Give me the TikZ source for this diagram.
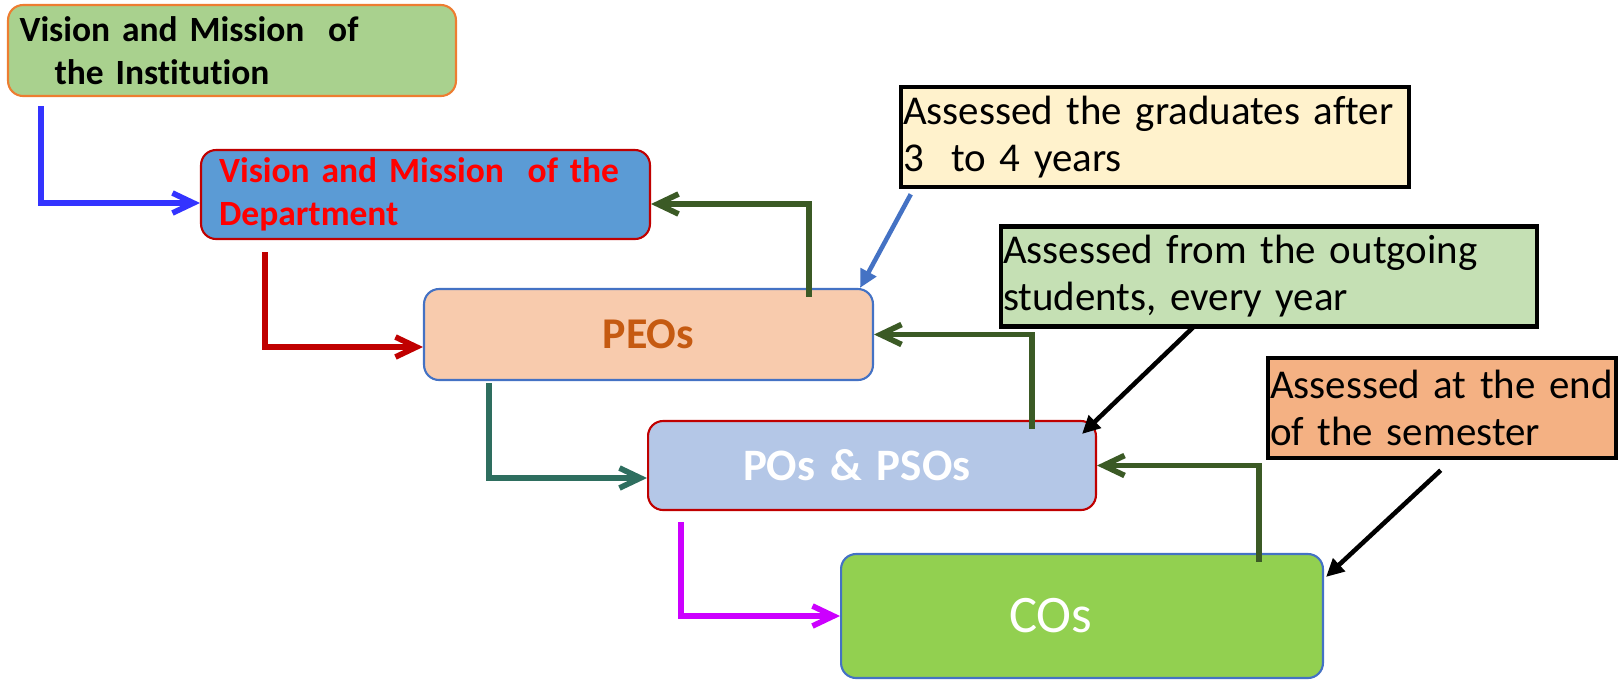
\documentclass[tikz,border=0pt]{standalone}
\usepackage{fontspec}
\setmainfont{Carlito}[Ligatures=NoCommon]
\usepackage{tikz}
\usetikzlibrary{arrows.meta,positioning,calc}

\definecolor{instfill}{HTML}{A9D18E}
\definecolor{instdraw}{HTML}{ED7D31}
\definecolor{deptfill}{HTML}{5B9BD5}
\definecolor{darkred}{HTML}{C00000}
\definecolor{peofill}{HTML}{F8CBAD}
\definecolor{peotext}{HTML}{C55A11}
\definecolor{boxblue}{HTML}{4472C4}
\definecolor{pofill}{HTML}{B4C7E7}
\definecolor{cofill}{HTML}{92D050}
\definecolor{noteyellow}{HTML}{FFF2CC}
\definecolor{notegreen}{HTML}{C5E0B4}
\definecolor{noteorange}{HTML}{F4B183}
\definecolor{flowblue}{HTML}{3333FF}
\definecolor{flowteal}{HTML}{2E6E5F}
\definecolor{flowmagenta}{HTML}{CC00FF}
\definecolor{backgreen}{HTML}{3B5A25}

\begin{document}
\begin{tikzpicture}[
			x=0.02cm, y=-0.02cm,
			box/.style={rectangle, draw, line width=1.2pt, rounded corners=0.3cm, minimum width=8.96cm, minimum height=1.8cm, align=center},
			note/.style={rectangle, draw=black, line width=2.6pt, minimum height=2cm, inner xsep=0.04cm, align=left, font=\fontsize{23.3}{26.8}\selectfont},
			flow/.style={-{Straight Barb[length=0.42cm,width=0.4cm]}, line width=3.2pt},
			back/.style={flow, backgreen},
			pointer/.style={-{Triangle[length=0.36cm,width=0.34cm]}, line width=2.6pt}
			]
			
			\useasboundingbox (0,0) rectangle (1618,680);
			
			% Outcome levels
			\node[box, fill=instfill, draw=instdraw, align=left, text width=8.5cm, inner xsep=0.23cm, minimum height=1.82cm, font=\bfseries\fontsize{20.2}{24.5}\selectfont] (inst) at (232,50.5) {Vision and Mission~~of\\\hspace*{0.7cm}the Institution};
			\node[box, fill=deptfill, draw=darkred, text=red, align=left, text width=8.26cm, inner xsep=0.36cm, minimum height=1.78cm, font=\bfseries\fontsize{20.2}{24.5}\selectfont] (dept) at (425.5,194.5) {Vision and Mission~~of the\\Department};
			\node[box, fill=peofill, draw=boxblue, text=peotext, minimum width=8.98cm, minimum height=1.82cm, font=\bfseries\fontsize{25}{30}\selectfont] (peo) at (648.5,334.5) {PEOs};
			\node[box, fill=pofill, draw=darkred, text=white, align=left, text width=5.16cm, inner xsep=1.9cm, minimum height=1.78cm, font=\bfseries\fontsize{25.6}{30}\selectfont] (po) at (872,465.5) {POs \& PSOs};
			\node[box, fill=cofill, draw=boxblue, text=white, align=left, text width=2.92cm, inner xsep=3.36cm, minimum height=2.48cm, font=\fontsize{30}{36}\selectfont] (co) at (1082,616) {COs};
			
			% Assessment notes
			\node[note, fill=noteyellow, text width=10.08cm] (noteA) at (1155,137) {Assessed the graduates after\\3~~to 4 years};
			\node[note, fill=notegreen, text width=10.64cm] (noteB) at (1269,276.5) {Assessed from the outgoing\\students, every year};
			\node[note, fill=noteorange, text width=6.88cm] (noteC) at (1442,408) {Assessed at the end\\of the semester};
			
			% Downward flow
			\coordinate (instout) at (41,106);
			\coordinate (deptout) at (265,252);
			\coordinate (peoout) at (489,383);
			\coordinate (poout) at (681,522);
			\draw[flow, flowblue] (instout) |- ([yshift=-0.17cm]dept.west);
			\draw[flow, darkred] (deptout) |- ([yshift=-0.25cm]peo.west);
			\draw[flow, flowteal] (peoout) |- ([yshift=-0.25cm]po.west);
			\draw[flow, flowmagenta] (poout) |- (co.west);
			
			% Feedback
			\draw[back] ([xshift=-1.3cm,yshift=-0.18cm]peo.north east) |- ([yshift=-0.19cm]dept.east);
			\draw[back] ([xshift=-1.3cm,yshift=-0.18cm]po.north east) |- (peo.east);
			\draw[back] ([xshift=-1.3cm,yshift=-0.18cm]co.north east) |- (po.east);
			
			% Note pointers
			\draw[pointer, boxblue] ([xshift=0.24cm,yshift=-0.1cm]noteA.south west) -- ([xshift=-0.28cm]peo.north east);
			\draw[pointer] ([xshift=3.92cm,yshift=0.06cm]noteB.south west) -- ([xshift=-0.3cm,yshift=-0.28cm]po.north east);
			\draw[pointer] ([xshift=3.5cm,yshift=-0.2cm]noteC.south west) -- ([xshift=0.04cm,yshift=-0.48cm]co.north east);
			
		\end{tikzpicture}
\end{document}
